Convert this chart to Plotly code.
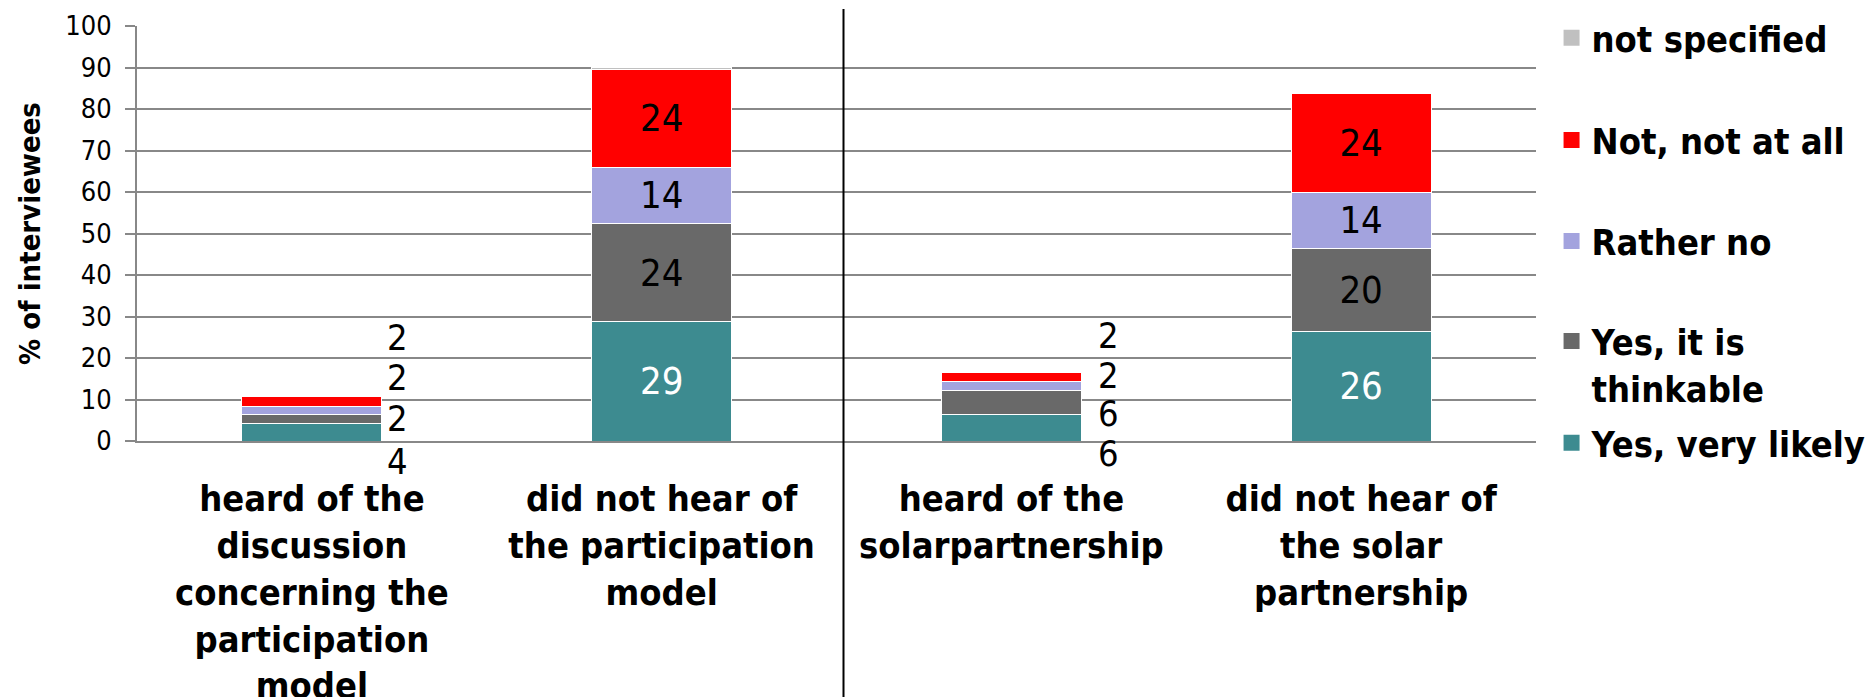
import plotly.graph_objects as go

categories = [
    'heard of the<br>discussion<br>concerning the<br>participation<br>model',
    'did not hear of<br>the participation<br>model',
    'heard of the<br>solarpartnership',
    'did not hear of<br>the solar<br>partnership',
]

series_names = ['Yes, very likely', 'Yes, it is<br>thinkable', 'Rather no',
                'Not, not at all', 'not specified']
series_colors = ['#3d8b90', '#696969', '#a3a3de', '#ff0000', '#c0c0c0']
label_colors = ['white', 'black', 'black', 'black', 'black']

very_likely = [4.1, 28.7, 6.4, 26.4]
thinkable = [2.4, 23.7, 5.7, 20.0]
rather_no = [1.9, 13.6, 2.2, 13.6]
not_at_all = [2.3, 23.6, 2.2, 23.7]
not_specified = [0.0, 0.5, 0.0, 0.0]

series_values = [very_likely, thinkable, rather_no, not_at_all, not_specified]

# bars whose labels sit inside the segments; the small ones get labels beside them
big_bars = [1, 3]
small_bars = [0, 2]
# pixel offsets of the side labels above the zero line
small_label_px = {0: [-20, 23, 64, 104], 2: [-12, 28, 66, 106]}
small_label_shift = {0: 86, 2: 97}

# legend rows, as fractions of the whole figure height
legend_y = [0.3687, 0.4826, 0.6618, 0.8084, 0.9565]

font = 'DejaVu Sans Condensed, DejaVu Sans'

fig = go.Figure()

for i, (name, vals) in enumerate(zip(series_names, series_values)):
    texts = []
    for j, v in enumerate(vals):
        if j in big_bars and i < 4:
            texts.append(f'{v:.0f}')
        else:
            texts.append('')
    fig.add_trace(go.Bar(
        x=categories,
        y=vals,
        name=name,
        marker=dict(color=series_colors[i], line=dict(color='white', width=1)),
        text=texts,
        textposition='inside',
        insidetextanchor='middle',
        textangle=0,
        constraintext='none',
        textfont=dict(family=font, size=38, color=label_colors[i]),
        showlegend=False,
        hoverinfo='x+y+name',
    ))
    # legend entry with a larger square symbol
    fig.add_trace(go.Scatter(
        x=[None], y=[None],
        mode='markers',
        name=name,
        marker=dict(symbol='square', size=16, color=series_colors[i]),
        legend='legend' if i == 0 else f'legend{i + 1}',
        hoverinfo='skip',
    ))

for j in small_bars:
    for i in range(4):
        fig.add_annotation(
            x=categories[j], y=0,
            text=f'{series_values[i][j]:.0f}',
            showarrow=False,
            xshift=small_label_shift[j], yshift=small_label_px[j][i],
            font=dict(family=font, size=36, color='black'),
        )

# vertical divider between the two question groups
fig.add_shape(type='line', xref='x', yref='paper', x0=1.52, x1=1.52,
              y0=-0.62, y1=1.041, line=dict(color='black', width=2))

layout_legends = {}
for i in range(5):
    key = 'legend' if i == 0 else f'legend{i + 1}'
    layout_legends[key] = dict(
        xref='container', yref='container',
        x=0.8272, xanchor='left', y=legend_y[i], yanchor='middle',
        font=dict(family=font, size=36, color='black', weight='bold'),
        bgcolor='rgba(0,0,0,0)', valign='top',
    )

# the page body adds an 8px margin, so the figure is 8px smaller each way
fig.update_layout(
    barmode='stack',
    bargap=0.6,
    width=1866, height=689,
    margin=dict(l=129, r=338, t=18, b=256),
    plot_bgcolor='white', paper_bgcolor='white',
    font=dict(family=font, color='black'),
    showlegend=True,
    **layout_legends,
)

fig.update_yaxes(
    range=[0, 100], dtick=10,
    automargin=False,
    showgrid=True, gridcolor='#888888', gridwidth=2,
    zeroline=False,
    showline=True, linecolor='#888888', linewidth=2,
    ticks='outside', ticklen=10, tickcolor='#888888', tickwidth=2,
    tickfont=dict(family=font, size=27, color='black'),
    ticklabelstandoff=8,
    title=dict(text='% of interviewees', standoff=16,
               font=dict(family=font, size=29, color='black', weight='bold')),
)

fig.update_xaxes(
    automargin=False,
    showline=True, linecolor='#888888', linewidth=2,
    showgrid=False, ticks='',
    tickfont=dict(family=font, size=36, color='black', weight='bold'),
    ticklabelstandoff=25,
    tickangle=0,
)

fig.write_html('out.html')
